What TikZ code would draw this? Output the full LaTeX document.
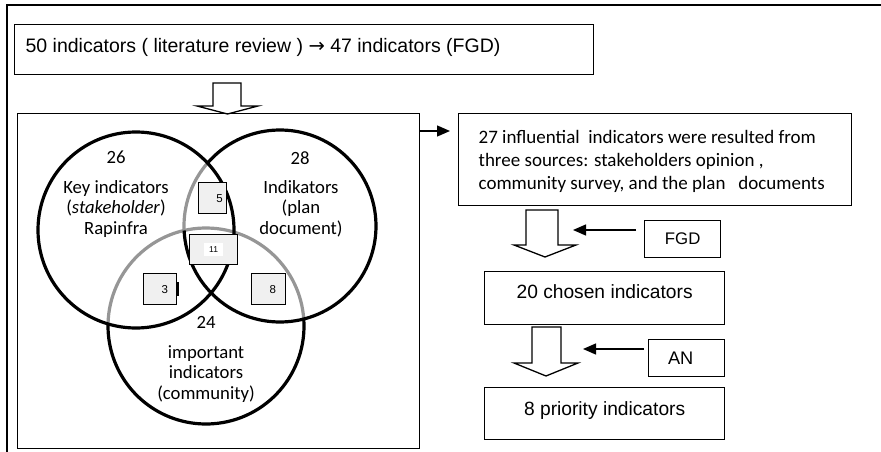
\documentclass[tikz,border=0pt]{standalone}
\usepackage{fontspec}
\setmainfont{Liberation Sans}
\newfontfamily\calibri{Carlito}
\newfontfamily\arrowfont{DejaVu Sans}
\usetikzlibrary{arrows.meta}
\definecolor{arcgrey}{RGB}{150,150,150}
\definecolor{smallfill}{RGB}{240,240,240}
\begin{document}
\begin{tikzpicture}[x=1pt,y=-1pt,
  box/.style={draw=black, line width=1.3pt, rectangle, inner sep=0pt},
  blockarrow/.style={draw=black, line width=1.3pt, fill=white, line join=miter},
  ring/.style={draw=black, line width=3.2pt},
  greyring/.style={draw=arcgrey, line width=3.2pt},
  small/.style={draw=black, line width=1.2pt, fill=smallfill, inner sep=0pt, anchor=north west, font=\fontsize{11.5}{13}\selectfont},
  conn/.style={line width=1.3pt, -{Triangle[length=13pt,width=11pt]}},
  vtext/.style={font=\calibri\fontsize{18.7}{20.7}\selectfont, inner sep=0pt, anchor=base},
]
\useasboundingbox (0,0) rectangle (881,452);
\fill[white] (0,0) rectangle (881,452);

% outer frame (top and left sides only)
\draw[line width=1.5pt] (7,452) -- (7,5) -- (881,5);

% top box
\node[box, anchor=north west, minimum width=579pt, minimum height=50pt, inner xsep=11pt,
      text height=14pt, text depth=8pt, font=\fontsize{19.5}{22}\selectfont] (top) at (14,24)
  {\makebox[557pt][l]{50 indicators ( literature review ) {\arrowfont →} 47 indicators (FGD)}};

% block arrow top -> venn
\draw[blockarrow] (213,83) -- (213,106) -- (197,106) -- (227.5,114) -- (258,106) -- (241,106) -- (241,83) -- cycle;

% venn box
\node[box, anchor=north west, minimum width=402pt, minimum height=335pt] (venn) at (17,113) {};

% circles
\coordinate (cL) at (136,230);
\coordinate (cR) at (280,226);
\coordinate (cB) at (206,326);
\draw[greyring] (cR) ++(177.3:96) arc[start angle=177.3, end angle=221, radius=96];
\draw[greyring] (cB) ++(181.2:98) arc[start angle=181.2, end angle=355.9, radius=98];
\draw[ring] (cL) circle[radius=98];
\draw[ring] (cR) ++(221:96) arc[start angle=221, end angle=537.3, radius=96];
\draw[ring] (cB) ++(-4.1:98) arc[start angle=-4.1, end angle=181.2, radius=98];

% venn texts
\node[vtext] (n26) at (116,163) {26};
\node[vtext] (t26) at (116,193) {\begin{tabular}[t]{@{}c@{}}Key indicators\\(\textit{stakeholder})\\Rapinfra\end{tabular}};
\node[vtext] (n28) at (300,164) {28};
\node[vtext] (t28) at (301,193) {\begin{tabular}[t]{@{}c@{}}Indikators\\(plan\\document)\end{tabular}};
\node[vtext] (n24) at (206,328) {24};
\node[vtext] (t24) at (206,358) {\begin{tabular}[t]{@{}c@{}}important\\indicators\\(community)\end{tabular}};

% small count boxes
\node[small, minimum width=28pt, minimum height=31pt] (s5) at (198,182) {\hspace*{14pt}5};
\node[small, minimum width=48pt, minimum height=30pt] (s11) at (189,234) {};
\node[fill=white, minimum width=19pt, minimum height=13pt, inner sep=0pt, font=\fontsize{8.5}{9}\selectfont] (l11) at (s11.center) {11};
\node[small, minimum width=33pt, minimum height=31pt] (s3) at (143,273) {\hspace*{9.6pt}3};
\draw[line width=2.6pt] ([yshift=-9pt]s3.north east) -- ([yshift=9pt]s3.south east);
\node[small, minimum width=34pt, minimum height=31pt] (s8) at (251,273) {\hspace*{8.6pt}8};

% right column
\node[box, anchor=north west, minimum width=393pt, minimum height=92pt, inner xsep=20pt,
      text height=14pt, text depth=46.6pt, font=\calibri\fontsize{19}{23.3}\selectfont] (b27) at (458,113)
  {\makebox[353pt][l]{\begin{tabular}[t]{@{}l@{}}27 influential\ \ indicators were resulted from\\three sources: stakeholders opinion ,\\community survey, and the plan\ \ \ documents\end{tabular}}};

\coordinate (v27tip) at (450,131);
\draw[conn] (venn.north east |- v27tip) -- (v27tip);

\draw[blockarrow] (526,210) -- (526,245) -- (514,245) -- (545,257) -- (576,245) -- (558,245) -- (558,210) -- cycle;

\node[box, anchor=north west, minimum width=76pt, minimum height=37pt, font=\fontsize{16.8}{20}\selectfont] (fgd) at (644,220) {FGD};
\coordinate (fgdstart) at (636,230);
\coordinate (fgdtip) at (573,230);
\draw[conn] (fgdstart) -- (fgdtip);

\node[box, anchor=north west, minimum width=240pt, minimum height=53pt, text height=14pt, text depth=12.4pt,
      font=\fontsize{19.2}{22}\selectfont] (b20) at (484,271) {20 chosen indicators};

\draw[blockarrow] (532,327) -- (532,363) -- (514,363) -- (546,376) -- (578,363) -- (561,363) -- (561,327) -- cycle;

\node[box, anchor=north west, minimum width=76pt, minimum height=37pt, font=\fontsize{18.2}{20}\selectfont] (an) at (648,339) {AN\hspace*{12pt}};
\coordinate (anstart) at (644,349);
\coordinate (antip) at (583,349);
\draw[conn] (anstart) -- (antip);

\node[box, anchor=north west, minimum width=240pt, minimum height=52pt, text height=14pt, text depth=10pt,
      font=\fontsize{19.2}{22}\selectfont] (b8) at (484,387) {8 priority indicators};
\end{tikzpicture}
\end{document}
